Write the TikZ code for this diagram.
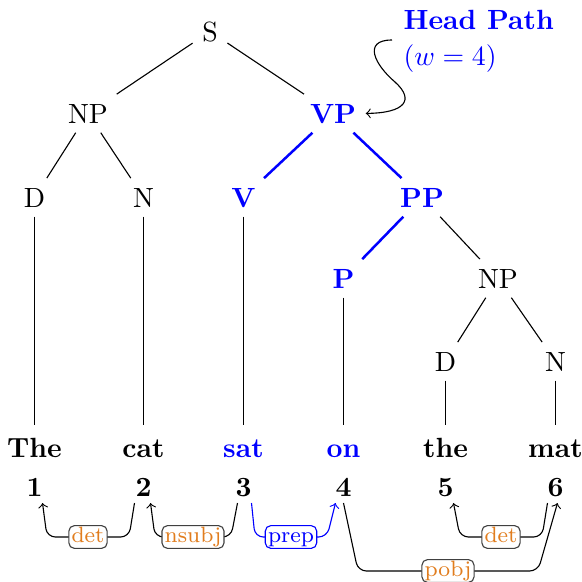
\documentclass[tikz,border=0pt]{standalone}
\usetikzlibrary{calc}
\definecolor{hpblue}{RGB}{0,0,255}
\definecolor{deporange}{RGB}{225,125,30}
\begin{document}
\begin{tikzpicture}[x=0.36pt,y=-0.36pt,
  tlab/.style={anchor=base, inner sep=3.3pt, text height=6.9pt, text depth=0pt},
  hlab/.style={tlab, font=\bfseries, text=hpblue},
  wordlab/.style={anchor=base, inner xsep=3pt, inner ysep=4.5pt, text height=6.9pt, text depth=0pt, font=\bfseries},
  numlab/.style={anchor=base, inner sep=2pt, font=\bfseries},
  tedge/.style={draw=black, line width=0.4pt},
  hedge/.style={draw=hpblue, line width=0.9pt},
  dep/.style={draw=black, line width=0.4pt, ->, rounded corners=3pt},
  deplab/.style={draw=black!75, fill=white, rounded corners=2pt, inner xsep=1pt, inner ysep=0.8pt,
                 font=\footnotesize, text=deporange, text height=5.2pt, text depth=1.4pt}
]
\useasboundingbox (0,0) rectangle (582,582);

% tree
\node[tlab] (S) at (210,41) {S};
\node[tlab] (NP1) at (88,123) {NP};
\node[hlab] (VP) at (333,123) {VP};
\node[tlab] (D1) at (34.5,207) {D};
\node[tlab] (N1) at (143.5,207) {N};
\node[hlab] (V) at (243.5,207) {V};
\node[hlab] (PP) at (422,207) {PP};
\node[hlab] (P) at (343.5,288) {P};
\node[tlab] (NP2) at (498,288) {NP};
\node[tlab] (D2) at (445.5,371) {D};
\node[tlab] (N2) at (555.5,371) {N};

% words
\node[wordlab] (w1) at (34.5,457) {The};
\node[wordlab] (w2) at (143.5,457) {cat};
\node[wordlab, text=hpblue] (w3) at (243.5,457) {sat};
\node[wordlab, text=hpblue] (w4) at (343.5,457) {on};
\node[wordlab] (w5) at (445.5,457) {the};
\node[wordlab] (w6) at (555.5,457) {mat};

\node[numlab] (n1) at (34.5,496) {1};
\node[numlab] (n2) at (143.5,496) {2};
\node[numlab] (n3) at (243.5,496) {3};
\node[numlab] (n4) at (343.5,496) {4};
\node[numlab] (n5) at (445.5,496) {5};
\node[numlab] (n6) at (555.5,496) {6};

% tree edges
\draw[tedge] (S) -- (NP1);
\draw[tedge] (S) -- (VP);
\draw[tedge] (NP1) -- (D1);
\draw[tedge] (NP1) -- (N1);
\draw[hedge] (VP) -- (V);
\draw[hedge] (VP) -- (PP);
\draw[hedge] (PP) -- (P);
\draw[tedge] (PP) -- (NP2);
\draw[tedge] (NP2) -- (D2);
\draw[tedge] (NP2) -- (N2);
\draw[tedge] (D1) -- (D1 |- w1.north);
\draw[tedge] (N1) -- (N1 |- w2.north);
\draw[tedge] (V) -- (V |- w3.north);
\draw[tedge] (P) -- (P |- w4.north);
\draw[tedge] (D2) -- (D2 |- w5.north);
\draw[tedge] (N2) -- (N2 |- w6.north);

% head path annotation
\node[anchor=base west, inner sep=0pt, font=\bfseries, text=hpblue] (hp1) at (403,29) {Head Path};
\node[anchor=base west, inner sep=0pt, text=hpblue] (hp2) at (403,65) {$(w = 4)$};
\coordinate (cstart) at (392,40);
\draw[->, line width=0.4pt] (cstart) .. controls (362,40) and (375,65) .. (395,82)
      .. controls (415,100) and (405,113) .. (VP.east);

% dependencies
\draw[dep] ($(n2.base)+(-9,7)$) -- (129,537) -- node[deplab] (l1) {det} (47,537) -- ($(n1.base)+(8,7)$);
\draw[dep] ($(n3.base)+(-6,7)$) -- (231,537) -- node[deplab] (l2) {nsubj} (155,537) -- ($(n2.base)+(7,7)$);
\draw[dep, draw=hpblue] ($(n3.base)+(8,7)$) -- (255,537) -- node[deplab, draw=hpblue, text=hpblue] (l3) {prep} (327,537) -- ($(n4.base)+(-8,7)$);
\draw[dep] ($(n4.base)+(0,7)$) -- (358,571) -- node[deplab] (l4) {pobj} (538,571) -- ($(n6.base)+(2,7)$);
\draw[dep] ($(n6.base)+(-8,7)$) -- (542,537) -- node[deplab] (l5) {det} (460,537) -- ($(n5.base)+(8,7)$);
\end{tikzpicture}
\end{document}
